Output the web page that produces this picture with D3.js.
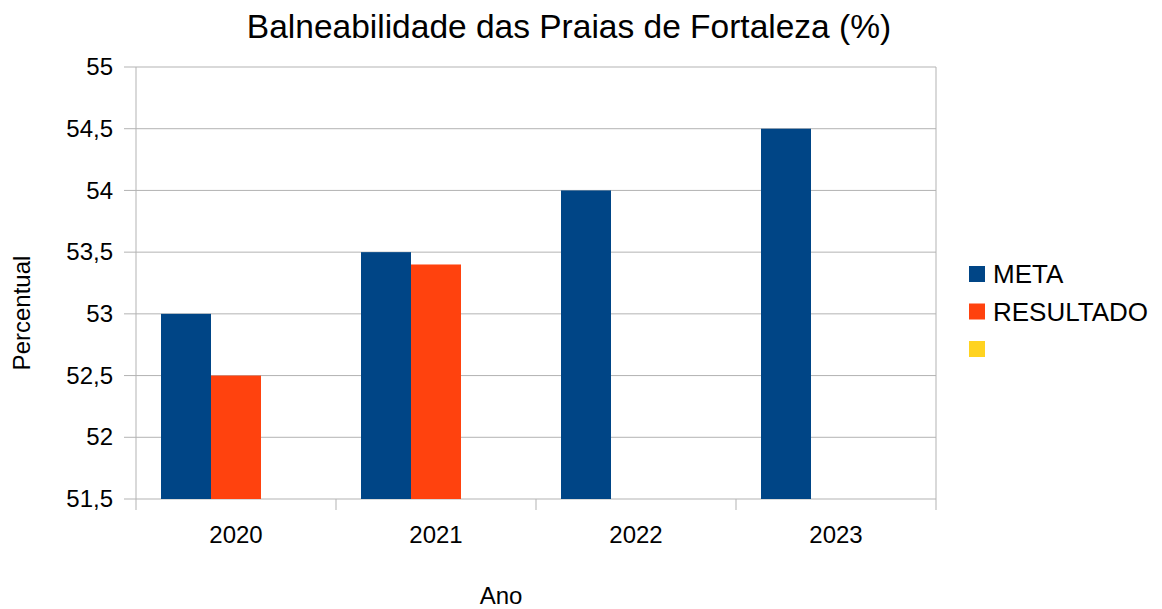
<!DOCTYPE html>
<html>
<head>
<meta charset="utf-8">
<script src="https://cdn.jsdelivr.net/npm/d3@7"></script>
<style>
  body { margin: 0; background: #fff; }
  text { font-family: "Liberation Sans", Arial, sans-serif; fill: #000; }
</style>
</head>
<body>
<div id="chart"></div>
<script>
// data
var years = ["2020", "2021", "2022", "2023"];
var seriesNames = ["META", "RESULTADO", ""];
var meta = [53, 53.5, 54, 54.5];
var resultado = [52.5, 53.4, null, null];
var third = [null, null, null, null];
var yTicks = [51.5, 52, 52.5, 53, 53.5, 54, 54.5, 55];
var colors = ["#004586", "#ff420e", "#ffd320"];

var margin = {top: 67, right: 226, bottom: 110, left: 136},
    width = 1162 - margin.left - margin.right,
    height = 609 - margin.top - margin.bottom;

var svg = d3.select("#chart").append("svg")
    .attr("width", 1162)
    .attr("height", 609);

var g = svg.append("g")
    .attr("transform", "translate(" + margin.left + "," + margin.top + ")");

var x = d3.scaleBand()
    .domain(years)
    .range([0, width]);

var xInner = d3.scaleBand()
    .domain(d3.range(seriesNames.length))
    .range([0, x.bandwidth()])
    .paddingOuter(0.5);

var y = d3.scaleLinear()
    .domain([51.5, 55])
    .range([height, 0]);

var fmt = function(d) { return String(d).replace(".", ","); };

// grid lines
g.append("g")
  .selectAll("line")
  .data(yTicks)
  .enter()
  .append("line")
    .attr("x1", -12)
    .attr("x2", width)
    .attr("y1", function(d) { return y(d); })
    .attr("y2", function(d) { return y(d); })
    .attr("stroke", "#b3b3b3")
    .attr("stroke-width", 1);

// y axis labels
var yAxis = g.append("g")
    .call(d3.axisLeft(y).tickValues(yTicks).tickFormat(fmt).tickSize(0).tickPadding(23));
yAxis.select(".domain").remove();
yAxis.selectAll("text")
    .style("font-size", "24px")
    .style("font-family", "Liberation Sans, Arial, sans-serif")
    .attr("fill", "#000");

// vertical axis lines + bottom ticks
g.append("g")
  .selectAll("line")
  .data(years.concat(["end"]))
  .enter()
  .append("line")
    .attr("x1", function(d, i) { return i * x.step(); })
    .attr("x2", function(d, i) { return i * x.step(); })
    .attr("y1", function(d, i) { return i == 0 || i == years.length ? 0 : height; })
    .attr("y2", height + 11)
    .attr("stroke", "#b3b3b3");

// bars
var all = [meta, resultado, third];
all.forEach(function(vals, s) {
  g.append("g")
    .selectAll("rect")
    .data(vals.map(function(v, i) { return {year: years[i], v: v}; }).filter(function(d) { return d.v != null; }))
    .enter()
    .append("rect")
      .attr("x", function(d) { return x(d.year) + xInner(s); })
      .attr("y", function(d) { return y(d.v); })
      .attr("width", xInner.bandwidth())
      .attr("height", function(d) { return height - y(d.v); })
      .style("fill", colors[s]);
});

// x labels
g.append("g")
  .selectAll("text")
  .data(years)
  .enter()
  .append("text")
    .attr("x", function(d) { return x(d) + x.bandwidth() / 2; })
    .attr("y", height + 44)
    .attr("text-anchor", "middle")
    .style("font-size", "24px")
    .text(function(d) { return d; });

// title
svg.append("text")
    .attr("x", 569)
    .attr("y", 38)
    .attr("text-anchor", "middle")
    .style("font-size", "33.5px")
    .text("Balneabilidade das Praias de Fortaleza (%)");

// axis titles
svg.append("text")
    .attr("x", 501)
    .attr("y", 604)
    .attr("text-anchor", "middle")
    .style("font-size", "24px")
    .text("Ano");

svg.append("text")
    .attr("transform", "translate(30,313) rotate(-90)")
    .attr("text-anchor", "middle")
    .style("font-size", "24px")
    .text("Percentual");

// legend
var legend = svg.append("g")
    .attr("transform", "translate(969,266)");

var items = legend.selectAll("g")
  .data(seriesNames)
  .enter()
  .append("g")
    .attr("transform", function(d, i) { return "translate(0," + (i * 37.5) + ")"; });

items.append("rect")
    .attr("width", 16)
    .attr("height", 16)
    .style("fill", function(d, i) { return colors[i]; });

items.append("text")
    .attr("x", 24)
    .attr("y", 17)
    .style("font-size", "26px")
    .text(function(d) { return d; });
</script>
</body>
</html>
